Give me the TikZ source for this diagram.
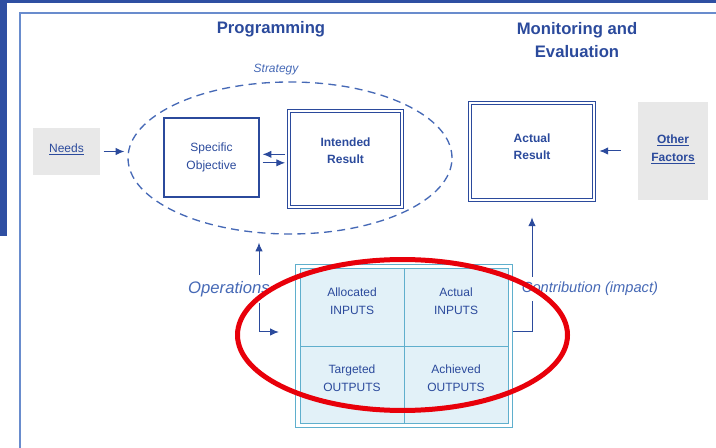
\documentclass[tikz,border=0pt]{standalone}
\usepackage{fontspec}
\setmainfont{Liberation Sans}
\usetikzlibrary{arrows.meta,shapes.geometric,fit}

\definecolor{bandblue}{RGB}{47,79,162}
\definecolor{frameblue}{RGB}{105,140,205}
\definecolor{inkblue}{RGB}{43,74,156}
\definecolor{softblue}{RGB}{70,105,182}
\definecolor{needgray}{RGB}{232,232,232}
\definecolor{gridteal}{RGB}{95,175,205}
\definecolor{gridfill}{RGB}{226,241,248}
\definecolor{ringred}{RGB}{232,0,10}

\tikzset{every picture/.style={line width=0.75pt}}
\tikzset{
  boxtxt/.style={font=\fontsize{9}{13}\selectfont, text=inkblue, align=center, inner sep=0pt},
  plainbox/.style={boxtxt, draw=inkblue, line width=1pt},
  dblbox/.style={boxtxt, font=\fontsize{9}{13}\selectfont\bfseries, draw=inkblue, double, double distance=1.5pt, line width=0.6pt},
  graybox/.style={boxtxt, fill=needgray},
  cell/.style={boxtxt, draw=gridteal, fill=gridfill, text depth=9.5pt, minimum width=78pt, minimum height=57.75pt},
  arr/.style={draw=inkblue, -{Latex[length=6.5pt,width=5.5pt]}},
  dblarr/.style={draw=inkblue, {Latex[length=6.5pt,width=5.5pt]}-{Latex[length=6.5pt,width=5.5pt]}},
  flowlabel/.style={text=softblue, fill=white, inner xsep=1pt},
}

\begin{document}
\begin{tikzpicture}[x=0.75pt,y=0.75pt,yscale=-1,xscale=1]
\useasboundingbox (0,0) rectangle (716,448);

%Shape: Frame
\fill[bandblue] (0,0) rectangle (716,3);
\fill[bandblue] (0,0) rectangle (7,236);
\draw[frameblue, line width=1.1pt] (20,448) -- (20,13) -- (716,13);

% Text Node
\draw (271,29) node [text=inkblue, font=\fontsize{12.5}{15}\selectfont\bfseries] (prog) {Programming};
% Text Node
\draw (577,40) node [text=inkblue, align=center, font=\fontsize{12.5}{17}\selectfont\bfseries] (mon) {Monitoring and\\Evaluation};

%Shape: Ellipse
\draw (290,158) node [draw=softblue, dash pattern=on 6pt off 4pt, line width=1pt, ellipse, inner sep=0pt, minimum width=243pt, minimum height=114pt] (strat) {};
% Text Node
\draw (276,70) node [text=softblue, font=\fontsize{9}{11}\selectfont\itshape] (stratlbl) {Strategy};

%Shape: Rectangle
\draw (66.5,151.5) node [graybox, text depth=5pt, minimum width=50.25pt, minimum height=35.25pt] (needs) {\underline{Needs}};
%Shape: Rectangle
\draw (211.5,157.5) node [plainbox, minimum width=71.25pt, minimum height=59.25pt] (obj) {Specific\\Objective};
%Shape: Rectangle
\draw (345.5,159) node [dblbox, text depth=12.5pt, minimum width=85pt, minimum height=72.3pt] (intended) {Intended\\Result};
%Shape: Rectangle
\draw (532,151.5) node [dblbox, text depth=7pt, minimum width=93.3pt, minimum height=73pt] (actual) {Actual\\Result};
%Shape: Rectangle
\draw (673,151) node [graybox, font=\fontsize{9}{13}\selectfont\bfseries, text depth=4.5pt, minimum width=52.5pt, minimum height=73.5pt] (other) {\underline{Other}\\\underline{Factors}};

%Shape: Grid
\draw (352,307.5) node [cell] (ca) {Allocated\\INPUTS};
\draw (456,307.5) node [cell] (cb) {Actual\\INPUTS};
\draw (352,384.5) node [cell] (cc) {Targeted\\OUTPUTS};
\draw (456,384.5) node [cell] (cd) {Achieved\\OUTPUTS};
\node [draw=gridteal, line width=1pt, inner sep=3pt, fit=(ca)(cd)] (grid) {};

\coordinate (opsbend) at (259,332);
\coordinate (contbend) at (532,332);

%Straight Lines
\draw[arr, shorten <=2.25pt, shorten >=2.25pt] (needs.east) -- (needs.east -| strat.west);
\draw[arr, shorten <=2.5pt, shorten >=2.25pt] ([yshift=-3.5pt]intended.west) -- ([yshift=-3.5pt]intended.west -| obj.east);
\draw[arr, shorten <=2.25pt, shorten >=2.5pt] ([yshift=4pt]obj.east) -- ([yshift=4pt]obj.east -| intended.west);
\draw[arr, shorten <=12.75pt, shorten >=3.6pt] (other.west) -- (other.west -| actual.east);
\draw[dblarr, shorten <=6pt, shorten >=12pt] (opsbend |- strat.south) -- (opsbend) -- (opsbend -| grid.west);
\draw[arr, shorten >=12.6pt] (contbend -| grid.east) -- (contbend) -- (actual.south);

% Text Node
\draw (229,289) node [flowlabel, inner ysep=5pt, font=\fontsize{12.5}{15}\selectfont\itshape] (opslbl) {Operations};
% Text Node
\draw (590,289) node [flowlabel, inner ysep=4pt, font=\fontsize{11}{13}\selectfont\itshape] (contlbl) {Contribution (impact)};

%Shape: Ellipse
\draw[ringred, line width=3.75pt] (402.5,335) ellipse [x radius=123.75pt, y radius=56.6pt];

\end{tikzpicture}
\end{document}
